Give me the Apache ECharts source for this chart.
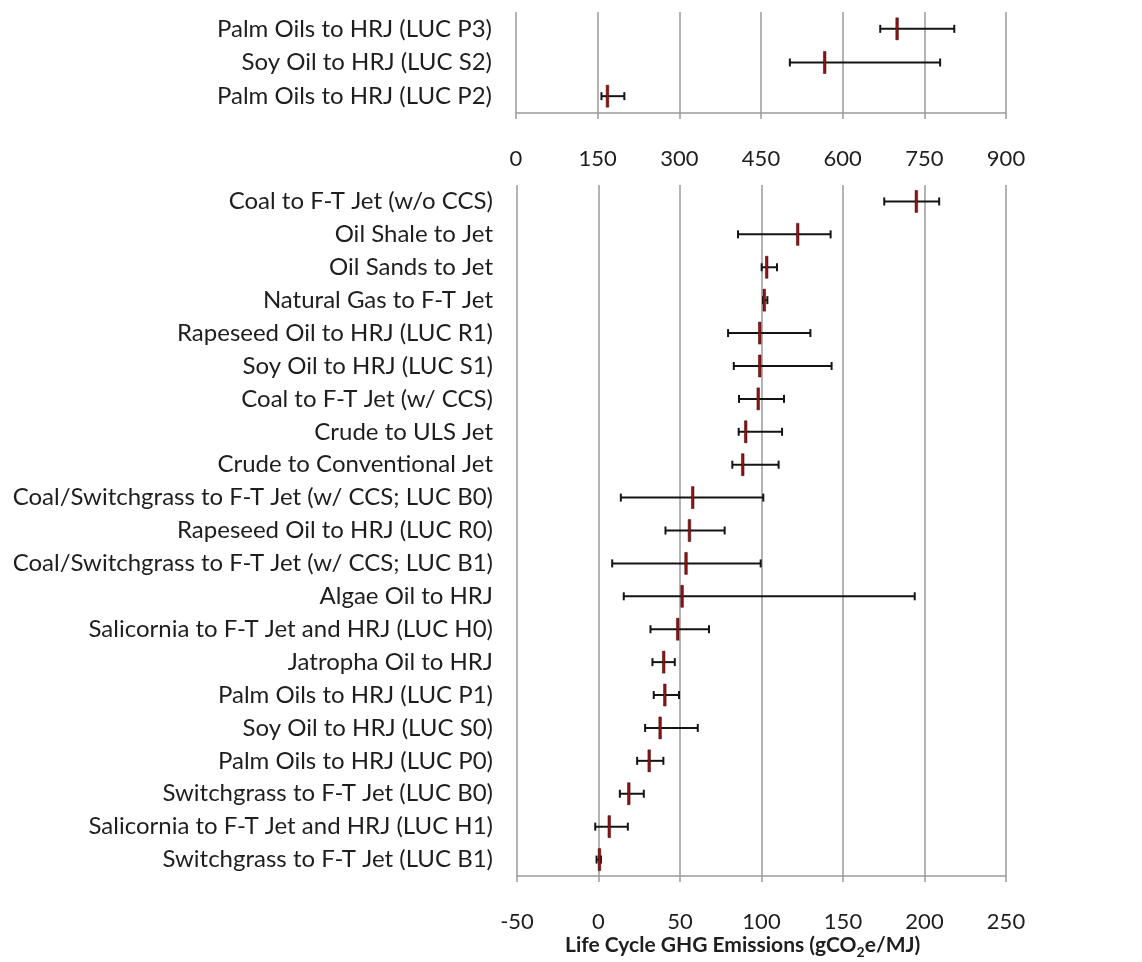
<!DOCTYPE html>
<html>
<head>
<meta charset="utf-8">
<script src="https://cdn.jsdelivr.net/npm/echarts@6/dist/echarts.min.js"></script>
<style>html,body{margin:0;padding:0;background:#fff;}#main{width:1142px;height:962px;}</style>
</head>
<body>
<div id="main"></div>
<script>
// Top panel (high land-use-change cases)
const topCategories = ['Palm Oils to HRJ (LUC P3)', 'Soy Oil to HRJ (LUC S2)', 'Palm Oils to HRJ (LUC P2)'];
const topMid  = [700, 567, 168];
const topLow  = [669, 503, 157];
const topHigh = [805, 779, 199];
const topTicks = { min: 0, max: 900, interval: 150 };

// Bottom panel
const bottomCategories = [
  'Coal to F-T Jet (w/o CCS)',
  'Oil Shale to Jet',
  'Oil Sands to Jet',
  'Natural Gas to F-T Jet',
  'Rapeseed Oil to HRJ (LUC R1)',
  'Soy Oil to HRJ (LUC S1)',
  'Coal to F-T Jet (w/ CCS)',
  'Crude to ULS Jet',
  'Crude to Conventional Jet',
  'Coal/Switchgrass to F-T Jet (w/ CCS; LUC B0)',
  'Rapeseed Oil to HRJ (LUC R0)',
  'Coal/Switchgrass to F-T Jet (w/ CCS; LUC B1)',
  'Algae Oil to HRJ',
  'Salicornia to F-T Jet and HRJ (LUC H0)',
  'Jatropha Oil to HRJ',
  'Palm Oils to HRJ (LUC P1)',
  'Soy Oil to HRJ (LUC S0)',
  'Palm Oils to HRJ (LUC P0)',
  'Switchgrass to F-T Jet (LUC B0)',
  'Salicornia to F-T Jet and HRJ (LUC H1)',
  'Switchgrass to F-T Jet (LUC B1)'
];
const bottomMid  = [195, 122.2, 103.2, 101.7, 98.9, 98.9, 98.0, 90.3, 88.5, 57.8, 55.8, 53.7, 51.3, 48.6, 40.0, 40.7, 37.8, 31.1, 18.6, 6.6, 0.6];
const bottomLow  = [175.3, 85.6, 100.1, 100.9, 79.5, 83.0, 86.2, 86.0, 82.1, 13.7, 41.1, 8.4, 15.5, 31.9, 33.1, 33.9, 28.6, 23.7, 13.1, -2.0, -1.2];
const bottomHigh = [209, 142.4, 109.5, 103.6, 130, 143, 113.8, 112.6, 110.5, 101.1, 77.4, 99.5, 194, 67.8, 46.8, 49.4, 60.9, 39.8, 27.8, 18.0, 1.5];
const bottomTicks = { min: -50, max: 250, interval: 50 };

const FONT = 'Lato';
const TEXT = '#1e1e1e';
const GRID = '#9a9a9a';

function buildRows(mid, low, high) {
  return mid.map((m, i) => [i, m, low[i], high[i]]);
}

function renderErr(params, api) {
  const idx = api.value(0);
  const m = api.coord([api.value(1), idx]);
  const l = api.coord([api.value(2), idx]);
  const h = api.coord([api.value(3), idx]);
  const y = m[1];
  const cap = 4;
  const mh = 11;
  const black = { stroke: '#141414', lineWidth: 2 };
  return {
    type: 'group',
    children: [
      { type: 'line', shape: { x1: l[0], y1: y, x2: h[0], y2: y }, style: black },
      { type: 'line', shape: { x1: l[0], y1: y - cap, x2: l[0], y2: y + cap }, style: black },
      { type: 'line', shape: { x1: h[0], y1: y - cap, x2: h[0], y2: y + cap }, style: black },
      { type: 'rect', shape: { x: m[0] - 1.3, y: y - mh, width: 2.6, height: mh * 2 },
        style: { fill: '#8e1414', stroke: '#3a0808', lineWidth: 0.5 } }
    ]
  };
}

function xAxisOf(gridIndex, ticks) {
  return {
    type: 'value', gridIndex: gridIndex,
    min: ticks.min, max: ticks.max, interval: ticks.interval,
    axisLine: { show: true, onZero: false, lineStyle: { color: GRID, width: 1.5 } },
    axisTick: { show: true, length: 6, lineStyle: { color: GRID, width: 1.5 } },
    axisLabel: { color: TEXT, fontFamily: FONT, fontSize: 22, margin: 35 },
    splitLine: { show: true, showMinLine: true, showMaxLine: true, lineStyle: { color: GRID, width: 1.5 } }
  };
}

function yAxisOf(gridIndex, cats) {
  return {
    type: 'category', gridIndex: gridIndex, data: cats, inverse: true,
    axisLine: { show: false }, axisTick: { show: false },
    splitLine: { show: false },
    axisLabel: { color: TEXT, fontFamily: FONT, fontSize: 24, margin: 24, align: 'right' }
  };
}

const chart = echarts.init(document.getElementById('main'), null, { renderer: 'canvas' });
chart.setOption({
  animation: false,
  backgroundColor: '#fff',
  grid: [
    { left: 516, top: 12, width: 490, height: 101 },
    { left: 517, top: 185, width: 489, height: 691 }
  ],
  xAxis: [xAxisOf(0, topTicks), xAxisOf(1, bottomTicks)],
  yAxis: [yAxisOf(0, topCategories), yAxisOf(1, bottomCategories)],
  series: [
    { type: 'custom', xAxisIndex: 0, yAxisIndex: 0, renderItem: renderErr,
      encode: { x: [1, 2, 3], y: 0 }, data: buildRows(topMid, topLow, topHigh) },
    { type: 'custom', xAxisIndex: 1, yAxisIndex: 1, renderItem: renderErr,
      encode: { x: [1, 2, 3], y: 0 }, data: buildRows(bottomMid, bottomLow, bottomHigh) }
  ],
  graphic: [
    { type: 'text', left: 565, top: 935,
      style: {
        text: '{a|Life Cycle GHG Emissions (gCO}{s|2}{a|e/MJ)}',
        rich: {
          a: { fontFamily: FONT, fontWeight: 'bold', fontSize: 21, fill: TEXT, lineHeight: 27, verticalAlign: 'bottom' },
          s: { fontFamily: FONT, fontWeight: 'bold', fontSize: 14, fill: TEXT, lineHeight: 27, verticalAlign: 'bottom', padding: [0, 0, -3, 0] }
        }
      } }
  ]
});
</script>
</body>
</html>
